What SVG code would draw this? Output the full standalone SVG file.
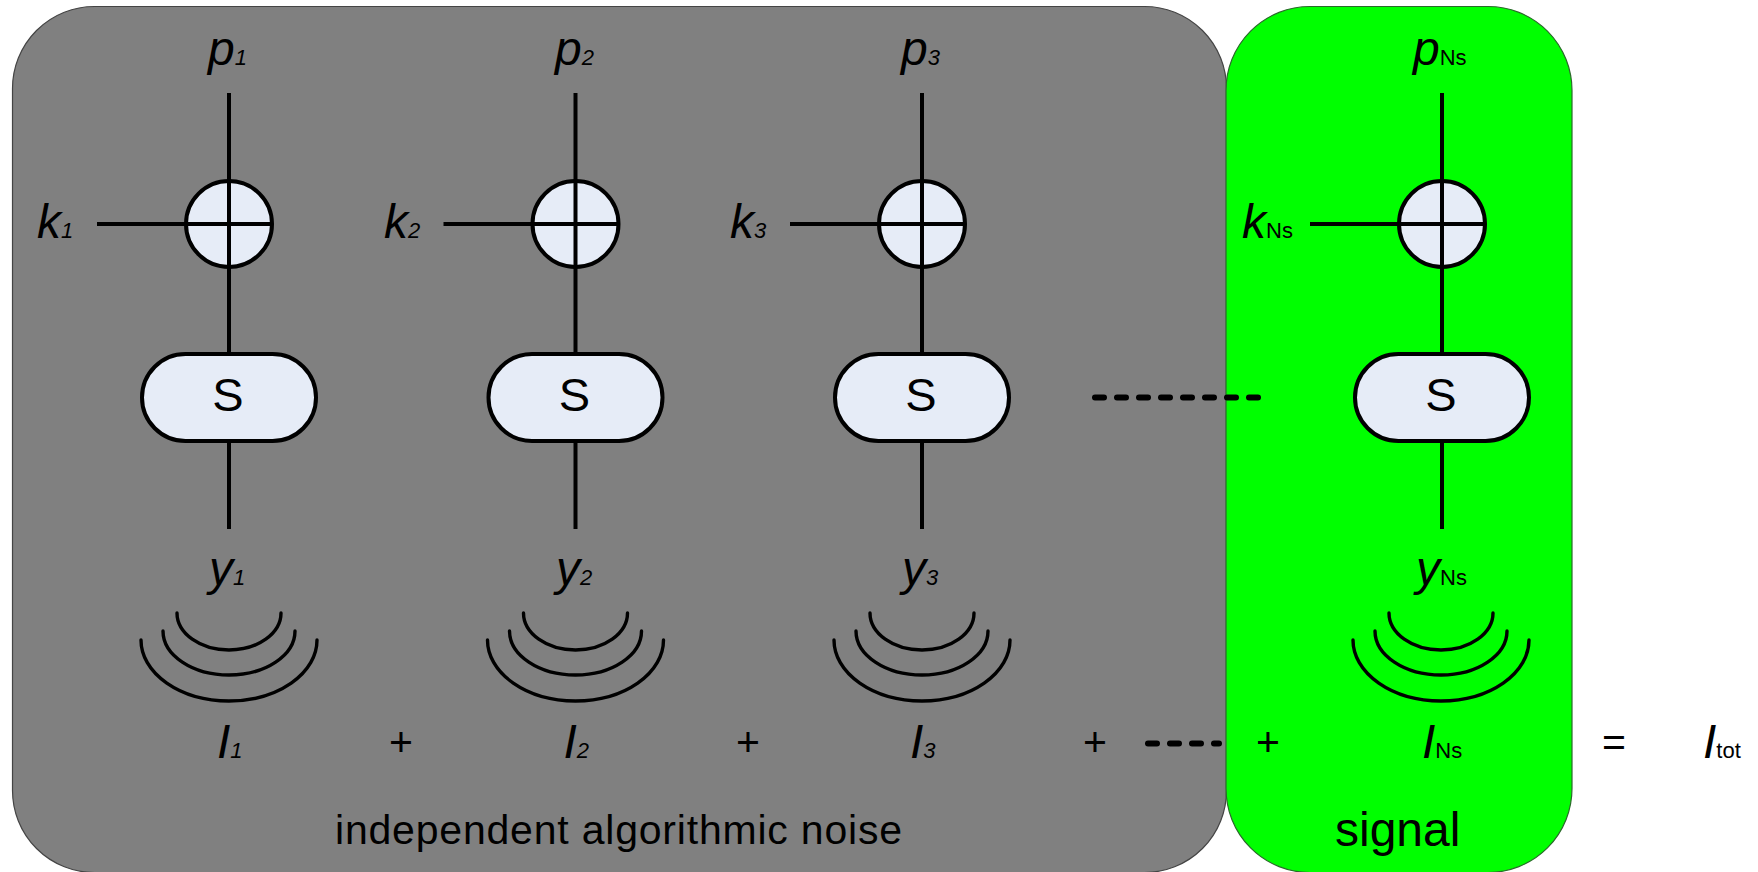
<svg xmlns="http://www.w3.org/2000/svg" width="1758" height="872" viewBox="0 0 1758 872">
<style>
text{font-family:"Liberation Sans",Arial,sans-serif;fill:#000}
.v{font-size:48px;font-style:italic}
.s{font-size:22px;font-style:italic}
.n{font-size:22px}
.b{font-size:47px}
.g{font-size:48px}
.m{font-size:41px}
.l{fill:none;stroke:#000;stroke-width:4}
.w{fill:none;stroke:#000;stroke-width:3.400;stroke-linecap:round}
.f{fill:#e6ecf7;stroke:#000;stroke-width:4}
.d{fill:none;stroke:#000;stroke-width:6;stroke-linecap:round;stroke-dasharray:9 13}
</style>
<rect width="1758" height="872" fill="#fff"/>
<g id="noise-region"><rect x="12.500" y="6.500" width="1214" height="866" rx="82" ry="82" fill="#808080" stroke="#444" stroke-width="1.200"/>
<text class="m" x="335" y="844" textLength="567">independent algorithmic noise</text></g>
<g id="signal-region"><rect x="1226" y="6.500" width="346" height="866" rx="84" ry="84" fill="#00ff00" stroke="#2a6a2a" stroke-width="1.200"/>
<text class="g" x="1335" y="846">signal</text></g>
<g id="connectors">
<path class="l" d="M229 93V354M229 441V529M97 224H187"/>
<path class="l" d="M575.500 93V354M575.500 441V529M443.500 224H533"/>
<path class="l" d="M922 93V354M922 441V529M790 224H879"/>
<path class="l" d="M1442 93V354M1442 441V529M1310 224H1399"/>
<path class="d" d="M1095 397.500H1262"/>
<path class="d" d="M1148 743.500H1219"/>
</g>
<g id="node-1">
<circle class="f" cx="229" cy="224" r="43"/><path class="l" d="M229 181V267M186 224H272"/>
<rect class="f" x="142" y="354" width="174" height="87" rx="43.500"/>
<text class="b" x="228" y="411" text-anchor="middle">S</text>
<text x="208" y="65"><tspan class="v">p</tspan><tspan class="s">1</tspan></text>
<text x="37" y="238"><tspan class="v">k</tspan><tspan class="s">1</tspan></text>
<text x="209" y="585"><tspan class="v">y</tspan><tspan class="s">1</tspan></text>
<text x="217" y="758"><tspan class="v">I</tspan><tspan class="s">1</tspan></text>
<path class="w" d="M177 613A52 37 0 0 0 281 613M163 631A66 44 0 0 0 295 631M141 640A88 61 0 0 0 317 640"/>
</g>
<g id="plus-1"><text class="m" x="401" y="756" text-anchor="middle">+</text></g>
<g id="node-2">
<circle class="f" cx="575.500" cy="224" r="43"/><path class="l" d="M575.500 181V267M532.500 224H618.500"/>
<rect class="f" x="488.500" y="354" width="174" height="87" rx="43.500"/>
<text class="b" x="574.500" y="411" text-anchor="middle">S</text>
<text x="555" y="65"><tspan class="v">p</tspan><tspan class="s">2</tspan></text>
<text x="384" y="238"><tspan class="v">k</tspan><tspan class="s">2</tspan></text>
<text x="556" y="585"><tspan class="v">y</tspan><tspan class="s">2</tspan></text>
<text x="563.500" y="758"><tspan class="v">I</tspan><tspan class="s">2</tspan></text>
<path class="w" d="M523.500 613A52 37 0 0 0 627.500 613M509.500 631A66 44 0 0 0 641.500 631M487.500 640A88 61 0 0 0 663.500 640"/>
</g>
<g id="plus-2"><text class="m" x="748" y="756" text-anchor="middle">+</text></g>
<g id="node-3">
<circle class="f" cx="922" cy="224" r="43"/><path class="l" d="M922 181V267M879 224H965"/>
<rect class="f" x="835" y="354" width="174" height="87" rx="43.500"/>
<text class="b" x="921" y="411" text-anchor="middle">S</text>
<text x="901" y="65"><tspan class="v">p</tspan><tspan class="s">3</tspan></text>
<text x="730" y="238"><tspan class="v">k</tspan><tspan class="s">3</tspan></text>
<text x="902" y="585"><tspan class="v">y</tspan><tspan class="s">3</tspan></text>
<text x="910" y="758"><tspan class="v">I</tspan><tspan class="s">3</tspan></text>
<path class="w" d="M870 613A52 37 0 0 0 974 613M856 631A66 44 0 0 0 988 631M834 640A88 61 0 0 0 1010 640"/>
</g>
<g id="plus-3"><text class="m" x="1095" y="756" text-anchor="middle">+</text></g>
<g id="plus-4"><text class="m" x="1268" y="756" text-anchor="middle">+</text></g>
<g id="node-ns">
<circle class="f" cx="1442" cy="224" r="43"/><path class="l" d="M1442 181V267M1399 224H1485"/>
<rect class="f" x="1355" y="354" width="174" height="87" rx="43.500"/>
<text class="b" x="1441" y="411" text-anchor="middle">S</text>
<text x="1413" y="65"><tspan class="v">p</tspan><tspan class="n">Ns</tspan></text>
<text x="1242" y="238"><tspan class="v">k</tspan><tspan class="n">Ns</tspan></text>
<text x="1416" y="585"><tspan class="v">y</tspan><tspan class="n">Ns</tspan></text>
<text x="1422" y="758"><tspan class="v">I</tspan><tspan class="n">Ns</tspan></text>
<path class="w" d="M1389 613A52 37 0 0 0 1493 613M1375 631A66 44 0 0 0 1507 631M1353 640A88 61 0 0 0 1529 640"/>
</g>
<g id="equals"><text class="m" x="1614" y="756" text-anchor="middle">=</text></g>
<g id="total"><text x="1703" y="758"><tspan class="v">I</tspan><tspan class="n">tot</tspan></text></g>
</svg>
